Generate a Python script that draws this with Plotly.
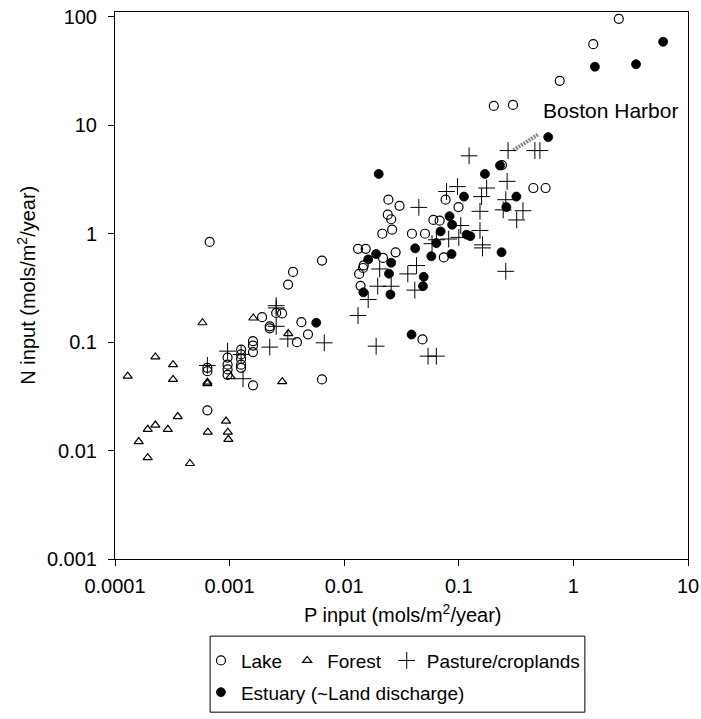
import math
import plotly.graph_objects as go

# ---------------- data ----------------
lake_p = [2.49, 1.49, 0.76, 0.202, 0.297, 0.447, 0.572, 0.238,
          0.0767, 0.0994, 0.060, 0.068, 0.0507, 0.039, 0.074,
          0.0243, 0.0304, 0.024, 0.0257, 0.0262, 0.0215, 0.0218, 0.0281,
          0.0132, 0.0154, 0.0148, 0.0146, 0.0135, 0.0139, 0.0482,
          0.0064, 0.00358, 0.00324, 0.00423, 0.00483, 0.00387, 0.0064,
          0.00067, 0.00192, 0.00255, 0.00287, 0.00224, 0.00224,
          0.0016, 0.0016, 0.0016, 0.0016,
          0.00126, 0.00126, 0.00126, 0.00126, 0.00126,
          0.00096, 0.00096, 0.00096, 0.00096,
          0.00064, 0.00064, 0.00064]
lake_n = [96, 56, 25.7, 15.1, 15.4, 2.64, 2.64, 4.3,
          2.06, 1.76, 1.34, 1.32, 1.0, 1.0, 0.605,
          2.06, 1.81, 1.50, 1.36, 1.09, 1.0, 0.598, 0.674,
          0.725, 0.725, 0.51, 0.483, 0.426, 0.331, 0.106,
          0.565, 0.444, 0.34, 0.153, 0.118, 0.10, 0.0453,
          0.84, 0.17, 0.186, 0.184, 0.14, 0.134,
          0.102, 0.093, 0.081, 0.040,
          0.0855, 0.077, 0.070, 0.062, 0.058,
          0.072, 0.062, 0.056, 0.050,
          0.058, 0.054, 0.0235]

forest_p = [1.29e-4, 2.25e-4, 3.21e-4, 3.21e-4, 5.8e-4, 1.61e-3, 3.25e-3,
            2.88e-3, 1.02e-3, 6.4e-4, 6.4e-4, 3.53e-4, 2.25e-4, 1.93e-4,
            2.89e-4, 1.61e-4, 1.93e-4, 4.51e-4, 6.45e-4, 9.3e-4, 9.65e-4,
            9.75e-4]
forest_n = [0.0486, 0.073, 0.062, 0.0453, 0.151, 0.167, 0.12,
            0.0432, 0.048, 0.0428, 0.0415, 0.0206, 0.0172, 0.0157,
            0.0157, 0.0121, 0.0086, 0.0076, 0.0148, 0.0187, 0.0148,
            0.0127]

pasture_p = [6.4e-4, 9.6e-4, 1.26e-3, 1.31e-3, 2.24e-3, 2.55e-3, 2.55e-3,
             2.55e-3, 3.22e-3, 6.7e-3, 0.0132, 0.0162, 0.019, 0.0196,
             0.0204, 0.0257, 0.0359, 0.0428, 0.0413, 0.0539, 0.0637,
             0.0448, 0.0584, 0.0816, 0.10, 0.104, 0.0782, 0.0975, 0.123,
             0.158, 0.175, 0.153, 0.153, 0.161, 0.161, 0.269, 0.461, 0.51,
             0.264, 0.257, 0.244, 0.363, 0.32, 0.257, 0.0637]
pasture_n = [0.061, 0.0826, 0.077, 0.046, 0.09, 0.14, 0.217,
             0.207, 0.107, 0.0986, 0.176, 0.247, 0.0918, 0.328,
             0.473, 0.328, 0.426, 0.509, 0.302, 0.0743, 0.0743,
             1.75, 0.81, 0.894, 0.925, 1.19, 2.45, 2.72, 5.23,
             2.2, 2.64, 1.61, 1.07, 0.79, 0.74, 5.85, 5.85, 5.85,
             3.04, 2.06, 1.66, 1.63, 1.34, 0.45, 0.88]

estuary_p = [6.07, 1.54, 3.52, 0.603, 0.229, 0.169, 0.020, 0.111, 0.318,
             0.26, 0.083, 0.0875, 0.0694, 0.117, 0.126, 0.0637, 0.0416,
             0.0576, 0.0864, 0.236, 0.0162, 0.019, 0.0257, 0.0246, 0.0147,
             0.0253, 0.0494, 0.0487, 0.0387, 0.0057]
estuary_n = [58.9, 34.7, 36.6, 7.78, 4.26, 3.56, 3.56, 2.2, 2.2,
             1.76, 1.45, 1.21, 1.05, 0.98, 0.95, 0.82, 0.733,
             0.62, 0.65, 0.674, 0.58, 0.65, 0.54, 0.428, 0.288,
             0.275, 0.40, 0.328, 0.1175, 0.151]

boston_p = [0.30, 0.49]
boston_n = [5.9, 8.2]
boston_label_p = 0.52
boston_label_n = 13.6

x_ticks = [0.0001, 0.001, 0.01, 0.1, 1, 10]
x_ticktext = ["0.0001", "0.001", "0.01", "0.1", "1", "10"]
y_ticks = [0.001, 0.01, 0.1, 1, 10, 100]
y_ticktext = ["0.001", "0.01", "0.1", "1", "10", "100"]

FONT = "Liberation Sans, Arial, Helvetica, sans-serif"

fig = go.Figure()

fig.add_trace(go.Scatter(
    x=boston_p, y=boston_n, mode="lines", showlegend=False,
    line=dict(color="#8a8a8a", width=4, dash="2px,1px"), hoverinfo="skip"))

fig.add_trace(go.Scatter(
    x=lake_p, y=lake_n, mode="markers", name="Lake", legend="legend",
    marker=dict(symbol="circle-open", size=9, color="black",
                line=dict(width=1.2, color="black"))))
fig.add_trace(go.Scatter(
    x=forest_p, y=forest_n, mode="markers", name="Forest", legend="legend",
    marker=dict(symbol="triangle-up-open", size=8, color="black",
                line=dict(width=1.2, color="black"))))
fig.add_trace(go.Scatter(
    x=pasture_p, y=pasture_n, mode="markers", name="Pasture/croplands",
    legend="legend",
    marker=dict(symbol="cross-thin", size=12, color="black",
                line=dict(width=1, color="black"))))
fig.add_trace(go.Scatter(
    x=estuary_p, y=estuary_n, mode="markers",
    name="Estuary (~Land discharge)", legend="legend2",
    marker=dict(symbol="circle", size=9, color="black",
                line=dict(width=0.8, color="black"))))

axis_common = dict(
    type="log", showgrid=False, zeroline=False, showline=True,
    linecolor="black", linewidth=1, mirror=True, ticks="outside",
    ticklen=6, tickwidth=1, tickcolor="black",
    tickfont=dict(family=FONT, size=20, color="black"))

fig.update_xaxes(
    **axis_common, range=[-4, 1], tickvals=x_ticks, ticktext=x_ticktext,
    ticklabelstandoff=3)
fig.update_yaxes(
    **axis_common, range=[-3, 2.045], tickvals=y_ticks, ticktext=y_ticktext,
    ticklabelstandoff=7)

# axis titles (placed as annotations for exact positioning)
fig.add_annotation(
    xref="paper", yref="paper", x=0.503, y=-0.100,
    text="P input (mols/m<sup>2</sup>/year)", showarrow=False,
    xanchor="center", yanchor="middle",
    font=dict(family=FONT, size=20, color="black"))
fig.add_annotation(
    xref="paper", yref="paper", x=-0.155, y=0.5, textangle=-90,
    text="N input (mols/m<sup>2</sup>/year)", showarrow=False,
    xanchor="center", yanchor="middle",
    font=dict(family=FONT, size=20, color="black"))

fig.add_annotation(
    x=math.log10(boston_label_p), y=math.log10(boston_label_n),
    text="Boston Harbor", showarrow=False, xanchor="left", yanchor="middle",
    font=dict(family=FONT, size=21, color="black"))

fig.add_shape(type="rect", xref="paper", yref="paper",
              x0=0.166, x1=0.82, y0=-0.141, y1=-0.280,
              line=dict(color="black", width=1), fillcolor="rgba(0,0,0,0)")

legend_common = dict(
    orientation="h", xanchor="left", yanchor="top",
    bgcolor="rgba(0,0,0,0)", borderwidth=0,
    font=dict(family=FONT, size=19, color="black"))

fig.update_layout(
    width=701, height=719,
    margin=dict(l=115, r=13, t=12, b=160, autoexpand=False),
    paper_bgcolor="white", plot_bgcolor="white",
    font=dict(family=FONT, size=20, color="black"),
    legend=dict(**legend_common, x=0.15, y=-0.151),
    legend2=dict(**legend_common, x=0.15, y=-0.209),
)

fig.write_html("out.html")
